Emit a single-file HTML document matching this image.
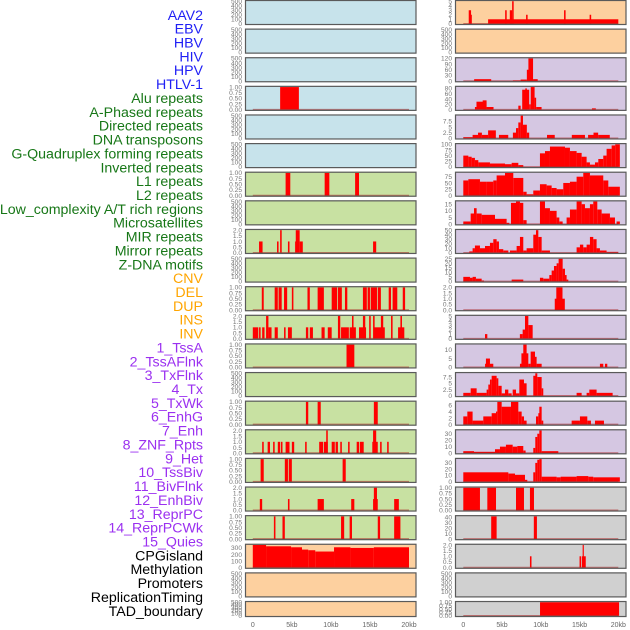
<!DOCTYPE html>
<html><head><meta charset="utf-8">
<style>
html,body{margin:0;padding:0;background:#fff;}
svg{display:block;font-family:"Liberation Sans",sans-serif;}
</style></head>
<body>
<svg id="chart" width="630" height="630" viewBox="0 0 630 630"></svg>
<script>
// ---------- data ----------
const trackLabels = ["AAV2","EBV","HBV","HIV","HPV","HTLV-1","Alu repeats","A-Phased repeats","Directed repeats","DNA transposons","G-Quadruplex forming repeats","Inverted repeats","L1 repeats","L2 repeats","Low_complexity A/T rich regions","Microsatellites","MIR repeats","Mirror repeats","Z-DNA motifs","CNV","DEL","DUP","INS","INV","1_TssA","2_TssAFlnk","3_TxFlnk","4_Tx","5_TxWk","6_EnhG","7_Enh","8_ZNF_Rpts","9_Het","10_TssBiv","11_BivFlnk","12_EnhBiv","13_ReprPC","14_ReprPCWk","15_Quies","CPGisland","Methylation","Promoters","ReplicationTiming","TAD_boundary"];
const labelGroups = ["v","v","v","v","v","v","r","r","r","r","r","r","r","r","r","r","r","r","r","s","s","s","s","s","c","c","c","c","c","c","c","c","c","c","c","c","c","c","c","k","k","k","k","k"];
const xTickValues = [0,5,10,15,20];
const xTickLabels = ["0","5kb","10kb","15kb","20kb"];

// left column tracks: segments [startKb, endKb, value]
const left0 = [], left1 = [], left2 = [];
const left3 = [[3.5,5.9,1]];
const left4 = [], left5 = [];
const left6 = [[4.2,4.8,1],[9.2,9.8,1],[13.1,13.6,1]];
const left7 = [];
const left8 = [[0.8,1.25,1],[3.1,3.3,1],[3.5,3.7,2],[4.5,4.7,1],[5.4,5.5,1],[5.5,6.0,2],[6.0,6.4,1],[15.4,15.8,1]];
const left9 = [];
const left10 = [[1.15,1.4,1],[2.8,3.2,1],[3.3,3.7,1],[4.0,4.4,1],[5.0,5.2,1],[7.0,7.3,1],[8.3,9.1,1],[10.1,10.8,1],[10.9,11.4,1],[11.8,12.1,1],[14.1,14.6,1],[14.7,15.0,1],[15.1,15.9,1],[16.0,16.4,1],[17.4,17.7,1],[17.9,18.5,1],[19.2,19.5,1]];
const left11 = [[0,0.7,1],[0.8,1.0,1],[1.2,1.5,1],[1.7,2.0,2],[2.0,2.4,1],[2.8,3.2,1],[4.0,4.2,1],[4.5,5.0,1],[6.8,7.1,1],[7.3,7.7,1],[8.8,9.2,1],[9.6,10.1,1],[10.9,11.2,2],[11.3,12.3,1],[12.4,13.2,1],[12.7,12.9,2],[13.6,14.5,1],[14.1,14.4,2],[14.9,15.1,2],[15.4,15.6,2],[15.5,16.9,1],[16.4,16.7,2],[17.7,17.9,2],[18.6,19.4,1],[18.9,19.1,2]];
const left12 = [[12.0,13.0,1]];
const left13 = [];
const left14 = [[6.8,7.1,1],[8.3,8.7,1],[15.5,16.0,1]];
const left15 = [[1.2,1.4,1],[1.9,2.2,1],[2.6,2.8,1],[3.2,3.5,1],[3.6,3.8,1],[4.2,4.7,1],[5.0,5.3,1],[6.7,6.9,1],[8.5,9.0,1],[9.1,9.6,1],[9.4,9.6,2],[10.1,10.5,1],[10.6,10.9,1],[11.2,11.4,1],[12.2,12.4,1],[13.3,13.6,1],[13.7,14.2,1],[15.3,16.0,1],[15.4,15.8,2],[16.3,16.5,1],[17.2,17.4,1]];
const left16 = [[1.0,1.4,1],[4.1,4.5,1],[4.6,5.0,1],[11.5,11.9,1]];
const left17 = [[0.9,1.2,1],[4.5,4.7,1],[8.3,9.1,1],[12.6,13.0,1],[15.4,16.0,1],[15.5,15.9,2],[18.1,18.7,1]];
const left18 = [[2.7,2.9,1],[3.8,4.1,1],[11.3,11.7,1],[12.4,12.7,1],[16.0,16.3,1],[18.1,18.9,1]];
const left19 = [[0,1.7,345],[1.7,4.9,325],[4.9,6.3,310],[6.3,7.1,275],[7.1,8.0,265],[8.0,10.4,245],[10.4,12.5,310],[12.5,15.5,300],[15.5,20,310]];
const left20 = [], left21 = [];

// right column tracks
const right0 = [[0.7,1.0,3],[0.9,1.1,2],[3.2,20,1],[5.4,5.6,3],[6.0,6.3,3],[6.3,6.5,5],[8.1,8.3,2],[13.0,13.2,3],[16.3,16.5,2]];
const right1 = [];
const right2 = [[1.4,3.6,10],[6.4,7.4,3],[7.4,8.2,8],[8.2,8.6,60],[8.4,9.0,120],[9.0,9.6,10]];
const right3 = [[1.5,1.7,10],[1.7,3.0,30],[2.5,3.0,35],[3.0,3.9,10],[7.1,7.4,15],[7.6,8.5,75],[8.0,8.2,80],[8.5,8.7,20],[8.7,9.2,85],[9.2,9.4,45],[9.4,10.1,10],[16.6,17.1,5]];
const right4 = [[0,1.2,0.5],[1.2,1.9,1.5],[1.9,2.4,2.5],[2.4,3.2,1.5],[3.2,4.2,3.5],[4.6,5.8,1.5],[6.4,6.8,2.5],[6.8,7.1,4.5],[7.1,7.4,7],[7.4,7.7,10],[7.7,8.2,6],[8.2,8.5,2.5],[10.8,11.8,1.5],[14.0,15.7,1.5],[16.1,16.8,1.5],[16.8,17.4,2.5],[17.4,18.9,1.5]];
const right5 = [[0,0.65,50],[0.65,1.08,45],[1.08,1.5,40],[1.5,1.94,30],[1.94,3.44,20],[3.44,5.38,15],[5.38,6.24,12],[6.24,7.1,18],[7.1,7.74,8],[9.89,10.54,60],[10.54,11.18,70],[11.18,13.12,90],[13.12,13.76,85],[13.76,14.62,70],[14.62,15.27,62],[15.27,15.91,45],[15.91,16.34,20],[16.34,16.99,10],[16.99,17.42,20],[17.42,18.06,35],[18.06,18.49,50],[18.49,19.14,80],[19.14,19.6,95],[19.6,20.2,100]];
const right6 = [[0,0.65,60],[0.65,2.15,65],[2.15,3.01,55],[3.01,3.87,55],[3.87,4.3,60],[4.3,5.38,80],[5.38,6.45,90],[6.45,7.74,70],[7.74,8.17,15],[8.17,9.03,5],[9.03,9.89,20],[9.89,10.75,45],[10.75,11.4,40],[11.4,12.04,30],[12.04,12.9,25],[12.9,13.76,50],[13.76,14.62,55],[14.62,15.48,75],[15.48,16.34,90],[16.34,18.06,80],[18.06,18.71,60],[18.71,20.2,35]];
const right7 = [[0,0.95,2],[0.95,1.38,8],[1.38,1.72,12],[1.72,2.37,8],[2.37,4.09,7],[4.09,5.59,4],[5.59,5.94,1],[6.15,6.8,16],[6.8,7.31,17],[7.31,7.74,16],[7.74,8.17,3],[9.89,10.54,17],[10.54,11.18,12],[11.18,12.04,10],[12.04,12.39,5],[12.39,12.82,2],[13.33,13.76,5],[13.76,14.62,11],[14.62,15.27,17],[15.27,15.7,15],[15.7,16.34,12],[16.34,16.77,15],[16.77,17.29,17],[17.29,17.85,11],[17.85,18.92,8],[18.92,19.57,5],[19.78,20.2,2]];
const right8 = [[0.77,1.2,3],[1.2,1.5,10],[1.5,2.15,16],[2.15,2.8,10],[2.8,3.44,15],[3.44,3.87,22],[3.87,4.3,30],[4.3,4.6,25],[4.6,5.16,8],[5.16,5.81,5],[6.02,6.88,5],[6.88,7.31,15],[7.31,7.74,35],[7.74,8.17,5],[8.17,9.03,10],[9.03,9.38,40],[9.38,9.68,50],[9.68,10.11,35],[10.11,11.18,5],[14.62,15.05,12],[15.05,15.48,18],[15.48,15.91,12],[15.91,16.34,18],[16.34,16.77,35],[16.77,17.2,30],[17.2,17.63,10],[17.63,18.49,5],[18.49,20,2]];
const right9 = [[0,0.86,5],[0.86,1.2,4],[1.2,1.63,5],[1.63,2.37,3],[2.37,2.67,1],[6.24,7.74,2],[9.89,10.32,4],[10.32,11.1,3],[11.1,11.4,7],[11.4,11.7,12],[11.7,12.04,17],[12.04,12.3,20],[12.3,12.82,25],[12.82,13.12,14],[13.12,13.33,7],[13.33,13.55,2]];
const right10 = [[11.8,12.3,1],[12.0,12.8,2],[12.8,13.1,1]];
const right11 = [[2.8,3.1,1],[7.3,7.66,1],[7.66,7.96,2],[7.96,8.39,5],[8.39,8.95,3]];
const right12 = [[2.8,2.92,2],[2.92,3.44,5],[3.44,3.87,2],[7.31,7.74,2],[7.5,8.39,8],[7.74,8.17,13],[8.39,8.69,2],[8.69,9.25,9],[9.25,9.46,6],[9.46,10.11,2],[17.63,18.06,2],[18.28,18.58,2]];
const right13 = [[0,0.95,1.2],[0.95,1.72,3],[1.72,3.01,1.2],[3.01,3.23,2.5],[3.23,3.44,4.5],[3.44,3.66,6.5],[3.66,4.3,8],[4.3,4.52,7],[4.52,4.95,4],[4.95,5.38,1],[5.38,5.81,2.5],[5.81,6.24,1],[6.37,6.8,2.5],[6.8,7.23,1],[7.23,7.83,6.5],[7.83,8.17,5],[9.03,9.38,8],[9.29,9.55,9],[9.55,10.11,7.5],[10.11,10.32,3],[14.62,15.27,1.2],[15.91,16.26,1.2],[16.26,17.2,2.5],[17.2,19.27,1.2]];
const right14 = [[0,0.52,2.5],[0.52,1.2,4],[1.2,2.58,1.2],[2.58,3.66,2.5],[3.66,4.22,3.5],[4.22,4.39,4],[4.39,4.95,7],[4.95,6.15,5.5],[6.15,7.1,7],[7.1,7.53,4],[7.53,7.83,2.5],[7.83,8.17,1.2],[9.38,9.68,2.5],[9.68,9.89,3.5],[9.81,10.11,5.5],[10.11,10.32,1.2],[13.98,15.05,1.2],[15.05,16.0,2.5],[16.0,16.47,1.2],[16.99,18.15,1.2]];
const right15 = [[0,1.38,3],[1.38,4.09,2],[4.09,4.73,6],[4.73,5.5,10],[5.5,6.37,13],[6.37,6.97,10],[6.97,7.74,11],[7.74,8.04,4],[9.03,9.29,8],[9.29,9.55,25],[9.55,9.81,30],[9.81,10.11,35],[10.11,12.26,3]];
const right16 = [[0,5.81,15],[5.81,6.67,13],[6.67,7.96,11],[7.96,8.26,3],[9.03,9.29,15],[9.29,9.55,30],[9.55,9.81,35],[9.81,10.11,36],[10.11,12.04,8],[12.04,12.56,7],[12.56,14.62,8],[14.62,16.13,9],[16.13,16.77,8],[16.77,20.2,7]];
const right17 = [[0,2.15,1],[3.1,4.22,1],[6.8,7.83,1],[8.6,9.12,1]];
const right18 = [[3.6,4.3,42],[9.1,9.5,42]];
const right19 = [[8.6,8.8,1],[15.0,15.2,1],[15.3,15.8,1],[15.4,15.55,2]];
const right20 = [];
const right21 = [[9.9,20.1,1]];

const leftMax = [500,500,500,1,500,500,1,500,2,500,1,2,1,500,1,2,1,2,1,345,500,500];
const rightMax = [5,500,120,85,10,100,90,17,50,25,2,5,13,9,7,35,36,1,42,2,500,1];
const leftTicks = ["e","e","e","u","e","e","u","e","t","e","u","t","u","e","u","t","u","t","u","c","e","e"];
const rightTicks = ["five","e","r120","r80","r7","r100","r75","r15","r50","r25","t","five","r10","r7","r6","r30","r30","u","r40","t","e","u"];
const tickSets = {
  e:[0,100,200,300,400,500], u:[0,0.25,0.5,0.75,1], t:[0,0.5,1,1.5,2], c:[0,100,200,300],
  five:[0,1,2,3,4,5], r120:[0,30,60,90,120], r80:[0,20,40,60,80], r7:[0,2.5,5,7.5],
  r100:[0,25,50,75,100], r75:[0,25,50,75], r15:[0,5,10,15], r50:[0,10,20,30,40,50],
  r25:[0,5,10,15,20,25], r10:[0,5,10], r6:[0,2,4,6], r30:[0,10,20,30], r40:[0,10,20,30,40]
};
const leftTracksAll = [left0,left1,left2,left3,left4,left5,left6,left7,left8,left9,left10,left11,left12,left13,left14,left15,left16,left17,left18,left19,left20,left21];
const rightTracksAll = [right0,right1,right2,right3,right4,right5,right6,right7,right8,right9,right10,right11,right12,right13,right14,right15,right16,right17,right18,right19,right20,right21];

// ---------- render ----------
const NS = "http://www.w3.org/2000/svg";
const svg = document.getElementById("chart");
function mk(tag, attrs, parent){
  const e = document.createElementNS(NS, tag);
  for (const k in attrs) e.setAttribute(k, attrs[k]);
  (parent||svg).appendChild(e);
  return e;
}
const groupColor = {v:"#1f1ff5", r:"#177717", s:"#ffa500", c:"#9b30f0", k:"#000000"};
trackLabels.forEach((t,i)=>{
  const el = mk("text",{x:203,y:19.8+i*13.86,"text-anchor":"end","font-size":"14.2px",fill:groupColor[labelGroups[i]]});
  el.textContent = t;
  
  
});

const leftBg = i => i<=5 ? "#c7e3eb" : (i<=18 ? "#c8e1a2" : "#fdd09f");
const rightBg = i => i<=1 ? "#fdd09f" : (i<=16 ? "#d5c7e2" : "#d0d0d0");
function fmt(v, set){
  if (set==="u") return v.toFixed(2);
  if (set==="t") return v.toFixed(1);
  return String(v);
}
function panel(col, i, segs, max, tset, bg){
  const x0 = col===0 ? 245 : 455, w = 171.5;
  const top = i*28.62, h = i===21 ? 16 : 25;
  const xk0 = col===0 ? 252.8 : 463.3, xk1 = col===0 ? 409 : 618.3;
  const xs = kb => xk0 + (xk1-xk0)*kb/20;
  const ys = v => (top+h-1.2) - (h-2.4)*v/max;
  const g = mk("g",{});
  
  
  mk("rect",{x:x0,y:top,width:w,height:h,fill:bg},g);
  const cid = "c"+col+"_"+i;
  const cp = mk("clipPath",{id:cid},g);
  mk("rect",{x:x0,y:top,width:w,height:h},cp);
  const bars = mk("g",{"clip-path":"url(#"+cid+")"},g);
  segs.forEach(s=>{
    const b = mk("rect",{x:xs(s[0]),y:ys(s[2]),width:Math.max(0.8,xs(s[1])-xs(s[0])),height:ys(0)-ys(s[2]),fill:"#ff0000"},bars);
    
    
  });
  if (tset!=="e"){
    mk("line",{x1:xs(0),x2:xs(20),y1:ys(0),y2:ys(0),stroke:"rgba(170,30,30,0.55)","stroke-width":1.6},bars);
  }
  mk("rect",{x:x0+0.5,y:top+0.5,width:w-1,height:h-1,fill:"none",stroke:"#5a5a5a","stroke-width":1.2},g);
  tickSets[tset].forEach(v=>{
    const t = mk("text",{x:x0-3,y:ys(v)+2.3,"text-anchor":"end","font-size":"6.6px",fill:"#777"},g);
    t.textContent = fmt(v,tset);
    
    
  });
}
leftTracksAll.forEach((s,i)=>panel(0,i,s,leftMax[i],leftTicks[i],leftBg(i)));
rightTracksAll.forEach((s,i)=>panel(1,i,s,rightMax[i],rightTicks[i],rightBg(i)));

[[252.8,409],[463.3,618.3]].forEach(r=>{
  xTickValues.forEach((v,j)=>{
    const t = mk("text",{x:r[0]+(r[1]-r[0])*v/20,y:627,"text-anchor":"middle","font-size":"7px",fill:"#666"});
    t.textContent = xTickLabels[j];
    
    
  });
});
</script>
</body></html>
